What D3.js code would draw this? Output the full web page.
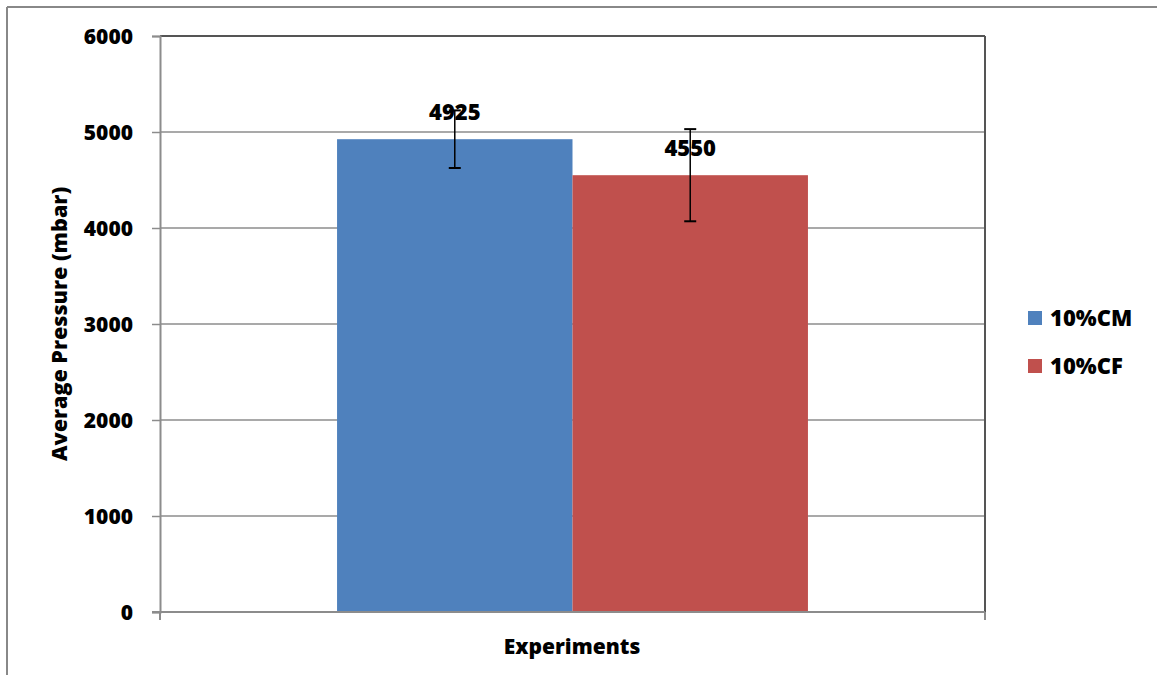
<!DOCTYPE html>
<html>
<head>
<meta charset="utf-8">
<script src="https://cdn.jsdelivr.net/npm/d3@7"></script>
<style>
  html, body { margin: 0; padding: 0; background: #fff; }
  svg { display: block; }
  text { font-family: "Open Sans", Lato, sans-serif; font-weight: 700; fill: #000; }
</style>
</head>
<body>
<svg id="chart" width="1157" height="675"></svg>
<script>
const categories = ["Experiments"];
const seriesNames = ["10%CM", "10%CF"];
const seriesValues = [4925, 4550];
const seriesErrors = [300, 480];
const seriesColors = ["#4F81BD", "#C0504D"];
const yTicks = [0, 1000, 2000, 3000, 4000, 5000, 6000];

const W = 1157, H = 675;
const plot = { left: 160, right: 985, top: 36, bottom: 612 };
const svg = d3.select("#chart");
const FONT = "'Open Sans', Lato, sans-serif";

// outer frame
svg.append("line").attr("x1", 7).attr("x2", W).attr("y1", 7).attr("y2", 7)
  .attr("stroke", "#888").attr("stroke-width", 2);
svg.append("line").attr("x1", 7).attr("x2", 7).attr("y1", 7).attr("y2", H)
  .attr("stroke", "#888").attr("stroke-width", 2);

const y = d3.scaleLinear().domain([0, 6000]).range([plot.bottom, plot.top]);
const x0 = d3.scaleBand().domain(categories).range([plot.left, plot.right])
  .paddingInner(0).paddingOuter(0.376);
const x1 = d3.scaleBand().domain(seriesNames).range([0, x0.bandwidth()]).padding(0);

// gridlines
svg.append("g").selectAll("line").data(yTicks.filter(d => d > 0)).join("line")
  .attr("x1", plot.left).attr("x2", plot.right)
  .attr("y1", d => y(d)).attr("y2", d => y(d))
  .attr("stroke", d => d === 6000 ? "#555" : "#8c8c8c").attr("stroke-width", d => d === 6000 ? 2 : 1.5);

// right border of plot
svg.append("line").attr("x1", plot.right).attr("x2", plot.right)
  .attr("y1", plot.top).attr("y2", plot.bottom)
  .attr("stroke", "#555").attr("stroke-width", 2);

// bars
const data = seriesNames.map((s, i) => ({ name: s, value: seriesValues[i], err: seriesErrors[i], color: seriesColors[i] }));
const g = svg.append("g").attr("transform", `translate(${x0(categories[0])},0)`);
g.selectAll("rect").data(data).join("rect")
  .attr("x", d => x1(d.name)).attr("width", x1.bandwidth())
  .attr("y", d => y(d.value)).attr("height", d => y(0) - y(d.value))
  .attr("fill", d => d.color);

// y axis
const yAxis = d3.axisLeft(y).tickValues(yTicks).tickSize(8).tickPadding(19).tickFormat(d3.format("d"));
const ya = svg.append("g").attr("transform", `translate(${plot.left},0)`).call(yAxis);
ya.select(".domain").attr("stroke", "#8c8c8c").attr("stroke-width", 2);
ya.selectAll(".tick line").attr("stroke", "#8c8c8c").attr("stroke-width", 1.5);
ya.selectAll(".tick text").style("font-family", FONT).style("font-weight", 800)
  .style("font-size", "21px").attr("fill", "#000").attr("dy", "0.36em");

// x axis
const xAxisLine = svg.append("g");
xAxisLine.append("line").attr("x1", plot.left - 8).attr("x2", plot.right)
  .attr("y1", plot.bottom).attr("y2", plot.bottom).attr("stroke", "#8c8c8c").attr("stroke-width", 2);
xAxisLine.selectAll(".xt").data([plot.left, plot.right]).join("line")
  .attr("x1", d => d).attr("x2", d => d).attr("y1", plot.bottom).attr("y2", plot.bottom + 8)
  .attr("stroke", "#8c8c8c").attr("stroke-width", 2);

// error bars
const eb = g.selectAll(".eb").data(data).join("g");
eb.append("line")
  .attr("x1", d => x1(d.name) + x1.bandwidth() / 2).attr("x2", d => x1(d.name) + x1.bandwidth() / 2)
  .attr("y1", d => y(d.value + d.err)).attr("y2", d => y(d.value - d.err))
  .attr("stroke", "#000").attr("stroke-width", 1.5);
eb.selectAll(".cap").data(d => [d.value + d.err, d.value - d.err].map(v => ({ v, d }))).join("line")
  .attr("x1", o => x1(o.d.name) + x1.bandwidth() / 2 - 6).attr("x2", o => x1(o.d.name) + x1.bandwidth() / 2 + 6)
  .attr("y1", o => y(o.v)).attr("y2", o => y(o.v))
  .attr("stroke", "#000").attr("stroke-width", 2);

// data labels
g.selectAll(".lbl").data(data).join("text")
  .attr("x", d => x1(d.name) + x1.bandwidth() / 2)
  .attr("y", d => y(d.value) - 19)
  .attr("text-anchor", "middle").style("font-size", "22px").style("font-weight", 800)
  .text(d => d.value);

// axis titles
svg.append("text").attr("x", (plot.left + plot.right) / 2 - 0.5).attr("y", 654)
  .attr("text-anchor", "middle").style("font-size", "21px").style("font-weight", 800).text(categories[0]);
svg.append("text").attr("transform", `translate(67,${(plot.top + plot.bottom) / 2}) rotate(-90)`)
  .attr("text-anchor", "middle").style("font-size", "21.5px").style("font-weight", 800).text("Average Pressure (mbar)");

// legend
const lg = svg.append("g").selectAll("g").data(data).join("g")
  .attr("transform", (d, i) => `translate(1028,${311 + i * 48})`);
lg.append("rect").attr("width", 14).attr("height", 14).attr("fill", d => d.color);
lg.append("text").attr("x", 22).attr("y", 15).style("font-size", "22px").style("font-weight", 800).text(d => d.name);
</script>
</body>
</html>
